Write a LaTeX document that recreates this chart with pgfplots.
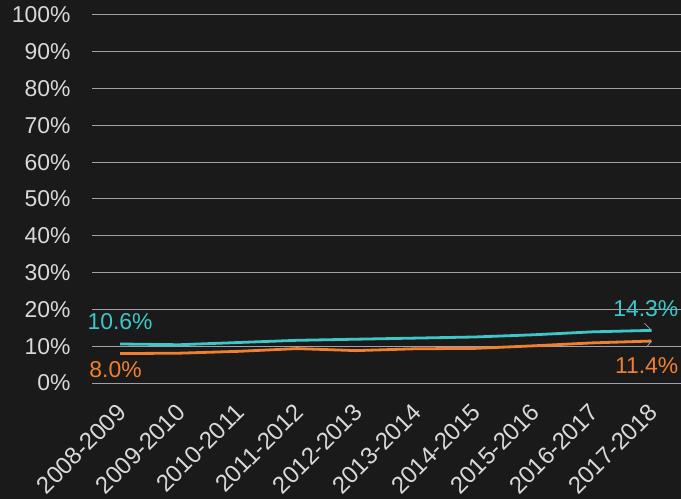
\documentclass[border=0pt]{standalone}
\usepackage{fontspec}
\setmainfont{Liberation Sans}
\usepackage{pgfplots}
\pgfplotsset{compat=1.18}
\definecolor{bg}{HTML}{1A1A1A}
\definecolor{tealc}{HTML}{3CC8C8}
\definecolor{orng}{HTML}{F0802E}
\definecolor{gridc}{HTML}{A0A0AA}
\definecolor{txt}{HTML}{D9D9D9}
\begin{document}
\begin{tikzpicture}
\path[use as bounding box, fill=bg] (-92bp,-116bp) rectangle (589bp,383bp);
\begin{axis}[
  at={(0,0)}, anchor=south west,
  scale only axis, width=589bp, height=368bp,
  xmin=-0.475, xmax=9.5, ymin=0, ymax=100,
  xtick={0,...,9},
  xticklabels={2008-2009,2009-2010,2010-2011,2011-2012,2012-2013,2013-2014,2014-2015,2015-2016,2016-2017,2017-2018},
  x tick label style={rotate=45, anchor=north east, font=\fontsize{24}{27}\selectfont, text=txt, inner sep=0pt, xshift=-16.5bp, yshift=-10.5bp},
  ytick={0,10,...,100},
  yticklabel={\pgfmathprintnumber{\tick}\%},
  y tick label style={font=\fontsize{23}{26}\selectfont, text=txt, xshift=-18bp},
  /pgf/number format/assume math mode=true,
  axis line style={draw=none},
  major tick style={draw=none},
  ymajorgrids, grid style={gridc, line width=1bp},
  clip=false,
]
\addplot[tealc, line width=2.8bp] coordinates {(0,10.6) (1,10.4) (2,11.0) (3,11.6) (4,11.9) (5,12.2) (6,12.5) (7,13.1) (8,13.9) (9,14.3)};
\addplot[orng, line width=2.8bp] coordinates {(0,8.0) (1,8.1) (2,8.6) (3,9.35) (4,8.8) (5,9.3) (6,9.4) (7,10.1) (8,10.9) (9,11.4)};
\draw[gridc, line width=0.8bp] ([xshift=-7bp,yshift=7bp]axis cs:9,14.3) -- (axis cs:9,14.3);
\draw[gridc, line width=0.8bp] ([xshift=-5bp,yshift=-6bp]axis cs:9,11.4) -- (axis cs:9,11.4);
\node[text=tealc, font=\fontsize{23}{26}\selectfont, anchor=base, inner sep=0pt] at (axis cs:0,10.6) [yshift=14bp] {10.6\%};
\node[text=orng, font=\fontsize{23}{26}\selectfont, anchor=base, inner sep=0pt] at (axis cs:0,8.0) [yshift=-24bp, xshift=-4.5bp] {8.0\%};
\node[text=tealc, font=\fontsize{23}{26}\selectfont, anchor=base east, inner sep=0pt] at (axis cs:9,14.3) [yshift=14bp, xshift=27bp] {14.3\%};
\node[text=orng, font=\fontsize{23}{26}\selectfont, anchor=base east, inner sep=0pt] at (axis cs:9,11.4) [yshift=-32bp, xshift=27bp] {11.4\%};
\end{axis}
\end{tikzpicture}
\end{document}
